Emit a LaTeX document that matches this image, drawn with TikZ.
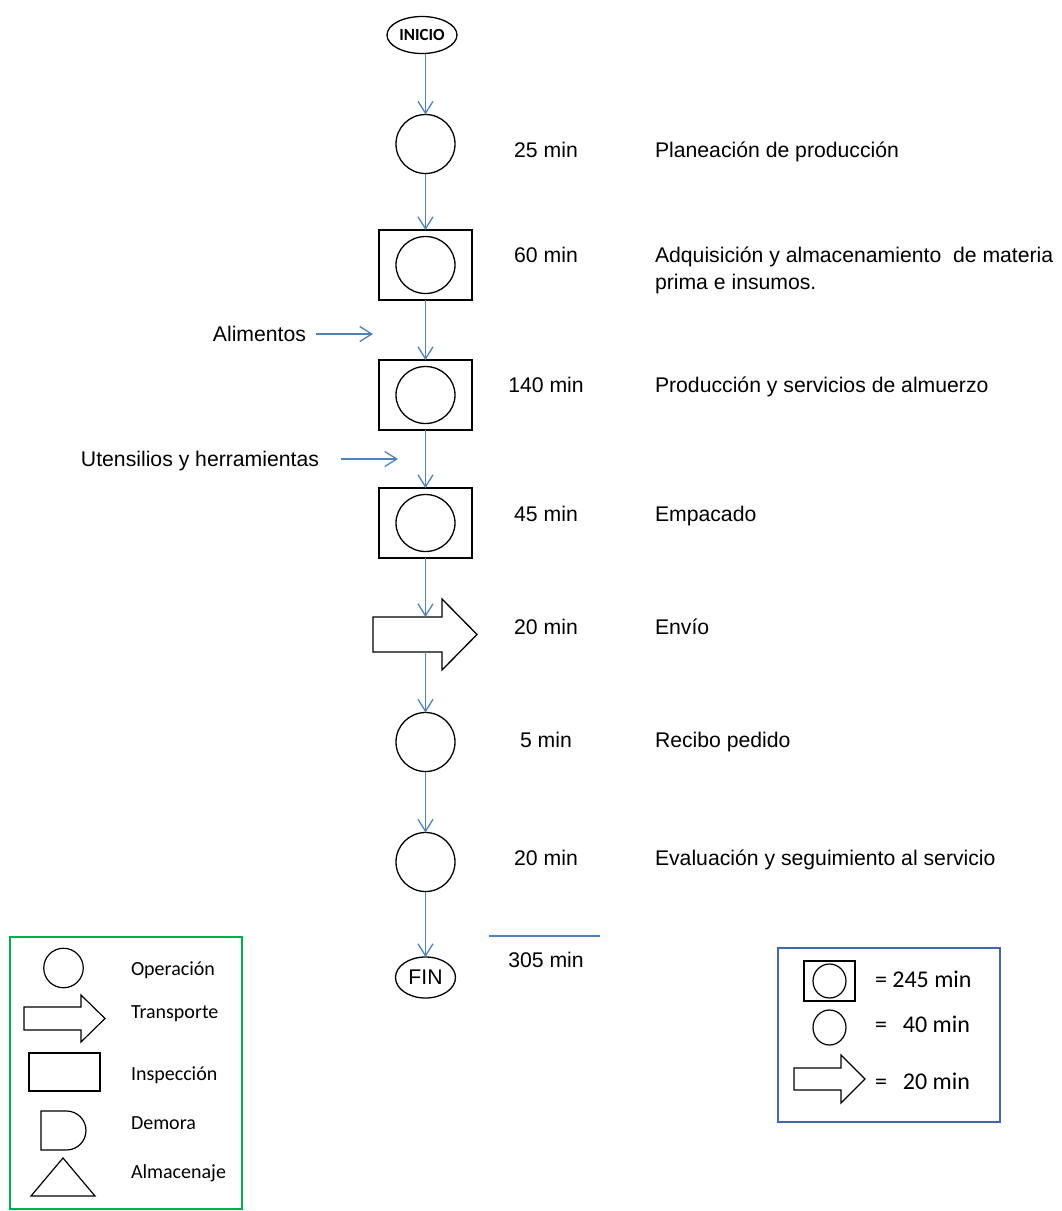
\documentclass[tikz,border=0pt]{standalone}
\usepackage{fontspec}
\setmainfont{Liberation Sans}
\newfontfamily\calibri{Carlito}
\usetikzlibrary{arrows.meta,shapes.geometric}
\definecolor{flowblue}{HTML}{4F81BD}
\definecolor{legendgreen}{HTML}{00B050}
\definecolor{legendblue}{HTML}{4068A8}

\begin{document}
\begin{tikzpicture}[x=1pt,y=-1pt,
  every node/.style={inner sep=0pt, outer sep=0pt},
  flow/.style={draw=flowblue, line width=1.3pt, -{Straight Barb[length=12pt,width=15pt]}},
  shapeline/.style={draw=black, line width=1.3pt},
  opcircle/.style={shapeline, circle, minimum size=59pt},
  inspbox/.style={draw=black, line width=1.6pt, rectangle, minimum width=93pt, minimum height=70pt},
  inspcircle/.style={shapeline, ellipse, minimum width=59pt, minimum height=57pt},
  maintext/.style={font=\fontsize{21.2}{27}\selectfont},
  timetext/.style={maintext, anchor=base},
  desctext/.style={maintext, anchor=base west, align=left},
  legtext/.style={font=\calibri\fontsize{20}{24}\selectfont, anchor=base west},
  keytext/.style={font=\calibri\fontsize{24}{28}\selectfont, anchor=base west},
]
\useasboundingbox (0,0) rectangle (1061,1211);

% ---- process column ----
\node[draw, ellipse, line width=1.3pt, minimum width=70pt, minimum height=37pt,
      font=\calibri\bfseries\fontsize{17}{20}\selectfont] (inicio) at (422,35) {INICIO};
\node[opcircle] (op1) at (425.5,144) {};
\node[inspbox] (insp2) at (425.5,265) {};
\node[inspcircle] (insp2c) at (425.5,265) {};
\node[inspbox] (insp3) at (425.5,395) {};
\node[inspcircle] (insp3c) at (425.5,395) {};
\node[inspbox] (insp4) at (425.5,523) {};
\node[inspcircle] (insp4c) at (425.5,523) {};
% transport: shaft node plus outline of the block arrow
\node[minimum width=69pt, minimum height=35pt] (envio) at (407.5,634.5) {};
\draw[shapeline] (envio.north west) -- (envio.north east) -- (442,599) -- (477,634.5)
  -- (442,670) -- (envio.south east) -- (envio.south west) -- cycle;
\node[opcircle] (op6) at (425.5,742) {};
\node[opcircle] (op7) at (425.5,862) {};
\node[draw, ellipse, line width=1.3pt, minimum width=60pt, minimum height=41pt,
      maintext] (fin) at (425.5,977.5) {FIN};

% ---- flow connectors ----
\draw[flow] (op1.north |- inicio.south) -- (op1.north);
\draw[flow] (op1.south) -- (insp2.north);
\draw[flow] (insp2.south) -- (insp3.north);
\draw[flow] (insp3.south) -- (insp4.north);
\draw[flow] (insp4.south) -- (insp4.south |- envio.north);
\draw[flow] (op6.north |- envio.south) -- (op6.north);
\draw[flow] (op6.south) -- (op7.north);
\draw[flow] (op7.south) -- (fin.north);

% ---- inputs ----
\node[maintext, anchor=base east] (alim) at (306,341.5) {Alimentos};
\coordinate (alimA) at (316,334);
\coordinate (alimB) at (373,334);
\draw[flow] (alimA) -- (alimB);
\node[maintext, anchor=base east] (uten) at (319,466.5) {Utensilios y herramientas};
\coordinate (utenA) at (341,459);
\coordinate (utenB) at (398,459);
\draw[flow] (utenA) -- (utenB);

% ---- times and descriptions ----
\node[timetext] (t1) at (546,157) {25 min};
\node[desctext] (d1) at (655,157) {Planeación de producción};
\node[timetext] (t2) at (546,262) {60 min};
\node[desctext] (d2) at (655,289) {Adquisición y almacenamiento~ de materia\\prima e insumos.};
\node[timetext] (t3) at (546,392) {140 min};
\node[desctext] (d3) at (655,392) {Producción y servicios de almuerzo};
\node[timetext] (t4) at (546,521) {45 min};
\node[desctext] (d4) at (655,521) {Empacado};
\node[timetext] (t5) at (546,634) {20 min};
\node[desctext] (d5) at (655,634) {Envío};
\node[timetext] (t6) at (546,747) {5 min};
\node[desctext] (d6) at (655,747) {Recibo pedido};
\node[timetext] (t7) at (546,865) {20 min};
\node[desctext] (d7) at (655,865) {Evaluación y seguimiento al servicio};

% ---- total ----
\coordinate (sumA) at (489,936);
\coordinate (sumB) at (600,936);
\draw[flowblue, line width=1.3pt] (sumA) -- (sumB);
\node[timetext] (total) at (546,967.5) {305 min};

% ---- symbol legend ----
\draw[legendgreen, line width=1.2pt] (10,937) rectangle (242,1209);
\node[draw, circle, line width=1.2pt, minimum size=39.5pt] (lopc) at (63.5,968) {};
\draw[shapeline, line width=1.2pt] (24,1007) -- (81,1007) -- (81,995) -- (105,1018.5)
  -- (81,1042) -- (81,1030) -- (24,1030) -- cycle;
\draw[shapeline, line width=1.2pt] (29,1053) rectangle (100,1091);
\draw[shapeline, line width=1.2pt] (41,1111) -- (66.5,1111)
  arc[start angle=-90, end angle=90, radius=19.5] -- (41,1150) -- cycle;
\draw[shapeline, line width=1.2pt] (31,1196) -- (63,1158) -- (95,1196) -- cycle;
\node[legtext] (lo) at (131,975.5) {Operación};
\node[legtext] (lt) at (131,1018) {Transporte};
\node[legtext] (li) at (131,1080) {Inspección};
\node[legtext] (ld) at (131,1129) {Demora};
\node[legtext] (la) at (131,1178) {Almacenaje};

% ---- totals per symbol ----
\draw[legendblue, line width=1.4pt] (778,948) rectangle (1000,1122);
\node[draw, line width=1.2pt, minimum width=51pt, minimum height=40pt] (kbox) at (829.5,981) {};
\node[draw, ellipse, line width=1.2pt, minimum width=33pt, minimum height=34pt] (kboxc) at (829.5,981) {};
\node[draw, ellipse, line width=1.2pt, minimum width=33pt, minimum height=35pt] (kop) at (829.5,1027.5) {};
\draw[shapeline, line width=1.2pt] (794,1068) -- (841,1068) -- (841,1055) -- (865,1079)
  -- (841,1103) -- (841,1090) -- (794,1090) -- cycle;
\node[keytext] (k1) at (875,987) {= 245 min};
\node[keytext] (k2) at (875,1032) {=\hspace{16pt}40 min};
\node[keytext] (k3) at (875,1089.5) {=\hspace{16pt}20 min};
\end{tikzpicture}
\end{document}
